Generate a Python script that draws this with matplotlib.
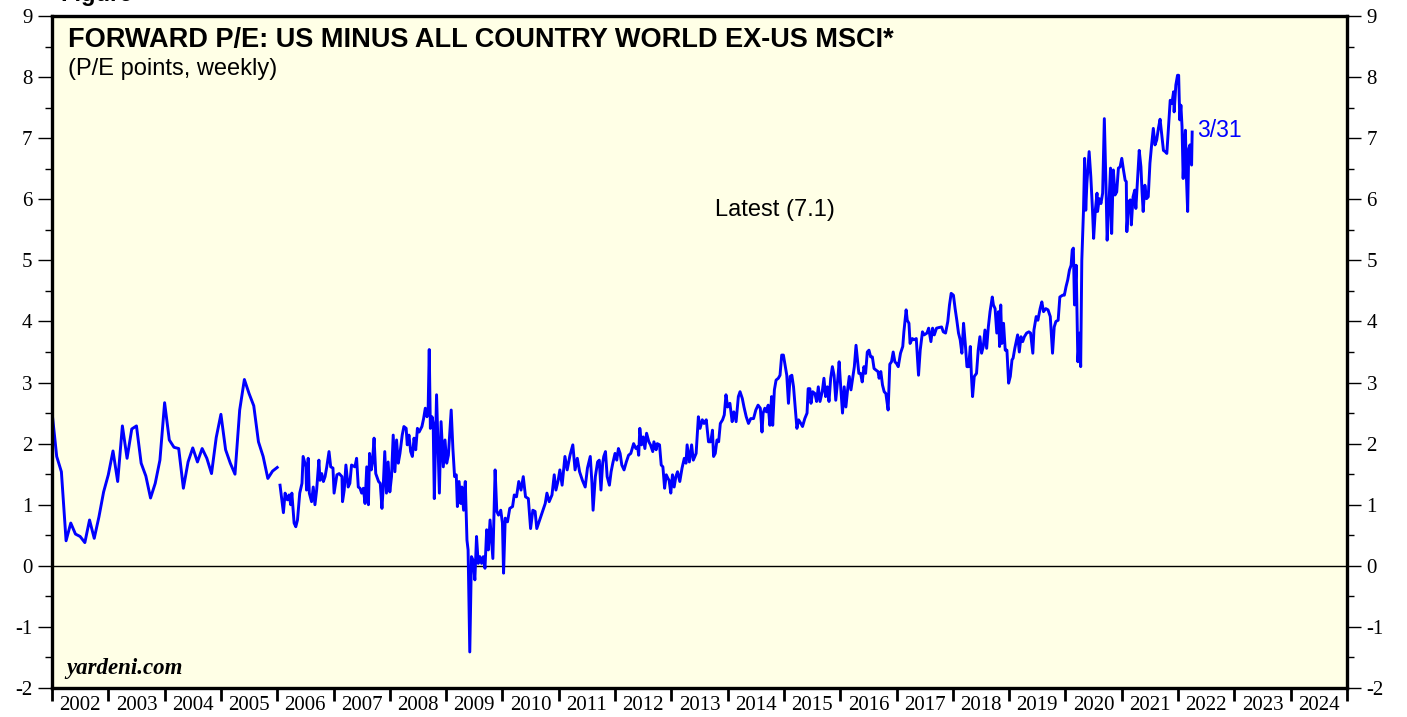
import numpy as np
import matplotlib
matplotlib.use("Agg")
from matplotlib import pyplot as plt
from matplotlib.ticker import MultipleLocator, FixedLocator, NullFormatter

plt.rcParams["axes.unicode_minus"] = False

# monthly readings, Jan 2002 .. Jan 2006
monthly_start = 2002.0
monthly_values = [
    2.52, 1.79, 1.54, 0.41, 0.70, 0.52, 0.48, 0.38, 0.75, 0.45, 0.80, 1.21,
    1.49, 1.88, 1.38, 2.29, 1.76, 2.24, 2.29, 1.68, 1.47, 1.11, 1.35, 1.73,
    2.67, 2.06, 1.94, 1.92, 1.27, 1.70, 1.93, 1.70, 1.92, 1.76, 1.51, 2.10,
    2.48, 1.90, 1.68, 1.50, 2.55, 3.05, 2.82, 2.62, 2.03, 1.79, 1.43, 1.55,
    1.61,
]

# weekly readings from 2006 (decimal year, P/E points)
weekly_dates = [
    2006.05, 2006.11, 2006.14, 2006.18, 2006.21, 2006.24, 2006.26, 2006.30, 2006.33, 2006.36,
    2006.40, 2006.44, 2006.46, 2006.51, 2006.52, 2006.55, 2006.57, 2006.61, 2006.64, 2006.67,
    2006.70, 2006.74, 2006.76, 2006.79, 2006.82, 2006.85, 2006.88, 2006.92, 2006.95, 2006.99,
    2007.01, 2007.06, 2007.10, 2007.15, 2007.16, 2007.19, 2007.22, 2007.26, 2007.29, 2007.32,
    2007.38, 2007.41, 2007.44, 2007.47, 2007.50, 2007.53, 2007.56, 2007.59, 2007.62, 2007.64,
    2007.67, 2007.69, 2007.72, 2007.75, 2007.80, 2007.83, 2007.86, 2007.88, 2007.91, 2007.94,
    2007.97, 2008.00, 2008.03, 2008.06, 2008.09, 2008.12, 2008.15, 2008.18, 2008.22, 2008.25,
    2008.29, 2008.31, 2008.34, 2008.37, 2008.40, 2008.43, 2008.46, 2008.49, 2008.52, 2008.57,
    2008.60, 2008.63, 2008.66, 2008.68, 2008.70, 2008.72, 2008.75, 2008.77, 2008.79, 2008.83,
    2008.88, 2008.91, 2008.95, 2008.98, 2009.01, 2009.04, 2009.09, 2009.12, 2009.15, 2009.18,
    2009.20, 2009.23, 2009.26, 2009.28, 2009.31, 2009.34, 2009.37, 2009.39, 2009.42, 2009.45,
    2009.48, 2009.51, 2009.54, 2009.57, 2009.60, 2009.63, 2009.66, 2009.69, 2009.72, 2009.75,
    2009.78, 2009.83, 2009.87, 2009.90, 2009.93, 2009.97, 2010.00, 2010.02, 2010.05, 2010.09,
    2010.13, 2010.18, 2010.21, 2010.25, 2010.29, 2010.33, 2010.37, 2010.41, 2010.46, 2010.50,
    2010.54, 2010.58, 2010.61, 2010.65, 2010.70, 2010.76, 2010.79, 2010.83, 2010.88, 2010.92,
    2010.95, 2010.99, 2011.02, 2011.06, 2011.11, 2011.15, 2011.20, 2011.25, 2011.29, 2011.33,
    2011.37, 2011.42, 2011.47, 2011.51, 2011.56, 2011.59, 2011.61, 2011.65, 2011.69, 2011.72,
    2011.75, 2011.78, 2011.80, 2011.83, 2011.86, 2011.90, 2011.93, 2011.96, 2012.00, 2012.03,
    2012.06, 2012.09, 2012.12, 2012.16, 2012.20, 2012.24, 2012.28, 2012.33, 2012.37, 2012.40,
    2012.42, 2012.44, 2012.47, 2012.50, 2012.53, 2012.56, 2012.60, 2012.63, 2012.67, 2012.69,
    2012.73, 2012.75, 2012.79, 2012.82, 2012.85, 2012.88, 2012.91, 2012.94, 2012.96, 2012.99,
    2013.02, 2013.05, 2013.08, 2013.11, 2013.15, 2013.19, 2013.23, 2013.26, 2013.28, 2013.32,
    2013.36, 2013.39, 2013.44, 2013.48, 2013.51, 2013.55, 2013.58, 2013.62, 2013.66, 2013.70,
    2013.73, 2013.75, 2013.78, 2013.81, 2013.84, 2013.87, 2013.91, 2013.94, 2013.97, 2014.00,
    2014.04, 2014.08, 2014.11, 2014.15, 2014.19, 2014.22, 2014.26, 2014.29, 2014.33, 2014.37,
    2014.41, 2014.46, 2014.50, 2014.54, 2014.58, 2014.61, 2014.63, 2014.66, 2014.69, 2014.72,
    2014.75, 2014.78, 2014.80, 2014.83, 2014.86, 2014.90, 2014.93, 2014.96, 2014.99, 2015.02,
    2015.05, 2015.08, 2015.11, 2015.14, 2015.17, 2015.20, 2015.23, 2015.26, 2015.30, 2015.33,
    2015.37, 2015.41, 2015.43, 2015.46, 2015.48, 2015.51, 2015.55, 2015.58, 2015.61, 2015.64,
    2015.68, 2015.71, 2015.74, 2015.77, 2015.80, 2015.83, 2015.86, 2015.89, 2015.92, 2015.96,
    2015.98, 2016.01, 2016.04, 2016.07, 2016.10, 2016.13, 2016.16, 2016.19, 2016.22, 2016.25,
    2016.28, 2016.30, 2016.33, 2016.36, 2016.39, 2016.42, 2016.45, 2016.48, 2016.51, 2016.54,
    2016.57, 2016.60, 2016.64, 2016.67, 2016.69, 2016.72, 2016.75, 2016.78, 2016.81, 2016.85,
    2016.88, 2016.91, 2016.94, 2016.97, 2017.00, 2017.03, 2017.07, 2017.11, 2017.13, 2017.17,
    2017.19, 2017.22, 2017.24, 2017.28, 2017.31, 2017.35, 2017.39, 2017.42, 2017.46, 2017.49,
    2017.54, 2017.57, 2017.61, 2017.64, 2017.67, 2017.71, 2017.75, 2017.80, 2017.83, 2017.87,
    2017.91, 2017.94, 2017.97, 2018.01, 2018.04, 2018.07, 2018.10, 2018.13, 2018.16, 2018.19,
    2018.22, 2018.25, 2018.28, 2018.31, 2018.33, 2018.35, 2018.38, 2018.42, 2018.45, 2018.48,
    2018.51, 2018.54, 2018.57, 2018.60, 2018.63, 2018.66, 2018.70, 2018.72, 2018.75, 2018.78,
    2018.81, 2018.83, 2018.85, 2018.87, 2018.90, 2018.93, 2018.96, 2018.99, 2019.02, 2019.05,
    2019.07, 2019.10, 2019.15, 2019.18, 2019.21, 2019.24, 2019.27, 2019.31, 2019.35, 2019.38,
    2019.42, 2019.44, 2019.48, 2019.51, 2019.55, 2019.58, 2019.61, 2019.65, 2019.69, 2019.73,
    2019.77, 2019.80, 2019.83, 2019.87, 2019.90, 2019.95, 2019.98, 2020.01, 2020.04, 2020.07,
    2020.10, 2020.12, 2020.14, 2020.16, 2020.19, 2020.22, 2020.25, 2020.27, 2020.29, 2020.32,
    2020.34, 2020.36, 2020.38, 2020.42, 2020.45, 2020.48, 2020.50, 2020.53, 2020.56, 2020.57,
    2020.60, 2020.63, 2020.66, 2020.69, 2020.72, 2020.74, 2020.77, 2020.80, 2020.82, 2020.85,
    2020.88, 2020.91, 2020.94, 2020.97, 2021.00, 2021.03, 2021.06, 2021.08, 2021.09, 2021.12,
    2021.15, 2021.17, 2021.20, 2021.23, 2021.25, 2021.28, 2021.31, 2021.34, 2021.36, 2021.38,
    2021.41, 2021.44, 2021.47, 2021.50, 2021.53, 2021.56, 2021.59, 2021.62, 2021.65, 2021.68,
    2021.71, 2021.74, 2021.77, 2021.80, 2021.83, 2021.86, 2021.89, 2021.92, 2021.93, 2021.96,
    2021.99, 2022.01, 2022.03, 2022.05, 2022.07, 2022.09, 2022.11, 2022.13, 2022.15, 2022.17,
    2022.19, 2022.21, 2022.24, 2022.25,
]
weekly_values = [
    1.32, 0.87, 1.19, 1.08, 1.16, 1.00, 1.19, 0.70, 0.64, 0.75,
    1.19, 1.35, 1.79, 1.62, 1.24, 1.76, 1.19, 1.05, 1.29, 1.00,
    1.24, 1.73, 1.40, 1.51, 1.38, 1.46, 1.62, 1.87, 1.62, 1.60,
    1.19, 1.49, 1.51, 1.46, 1.05, 1.24, 1.65, 1.29, 1.35, 1.65,
    1.62, 1.76, 1.29, 1.27, 1.19, 1.27, 1.02, 1.62, 1.00, 1.84,
    1.57, 1.68, 2.09, 1.51, 1.38, 1.35, 0.94, 1.24, 1.87, 1.19,
    1.70, 1.21, 1.46, 2.14, 1.54, 2.06, 1.68, 1.84, 2.14, 2.28,
    2.25, 1.98, 2.14, 1.87, 1.79, 2.09, 1.90, 2.25, 2.19, 2.28,
    2.41, 2.58, 2.44, 2.55, 3.54, 2.25, 2.44, 2.33, 1.10, 2.80,
    1.19, 2.36, 1.62, 2.06, 1.68, 1.81, 2.55, 1.92, 1.46, 1.49,
    0.97, 1.38, 1.02, 1.29, 0.91, 1.38, 0.42, 0.26, -1.41, 0.15,
    0.09, -0.23, 0.48, 0.04, 0.15, 0.04, 0.15, -0.04, 0.59, 0.26,
    0.75, 0.12, 1.57, 0.89, 0.83, 0.91, 0.70, -0.12, 0.78, 0.72,
    0.94, 0.97, 1.16, 1.13, 1.38, 1.24, 1.46, 1.13, 1.10, 0.61,
    0.91, 0.89, 0.61, 0.72, 0.86, 1.02, 1.19, 1.05, 1.16, 1.49,
    1.24, 1.40, 1.57, 1.32, 1.79, 1.57, 1.81, 1.98, 1.57, 1.76,
    1.54, 1.40, 1.29, 1.60, 1.79, 1.35, 0.91, 1.46, 1.70, 1.73,
    1.24, 1.68, 1.79, 1.87, 1.46, 1.32, 1.54, 1.68, 1.84, 1.73,
    1.92, 1.84, 1.65, 1.57, 1.70, 1.81, 1.84, 2.00, 1.92, 1.95,
    1.81, 2.25, 1.98, 2.11, 1.92, 2.17, 2.03, 1.98, 1.87, 2.03,
    1.90, 2.00, 1.98, 1.65, 1.62, 1.27, 1.49, 1.43, 1.40, 1.19,
    1.49, 1.29, 1.46, 1.54, 1.38, 1.60, 1.76, 1.68, 1.98, 1.70,
    1.98, 1.73, 1.84, 2.44, 2.25, 2.39, 2.33, 2.39, 2.03, 2.03,
    2.22, 1.79, 1.84, 2.06, 2.03, 2.33, 2.39, 2.47, 2.80, 2.60,
    2.66, 2.36, 2.52, 2.36, 2.77, 2.85, 2.74, 2.60, 2.44, 2.33,
    2.41, 2.41, 2.55, 2.63, 2.58, 2.19, 2.50, 2.58, 2.52, 2.63,
    2.30, 2.77, 2.30, 2.88, 3.04, 3.07, 3.12, 3.45, 3.45, 3.29,
    3.12, 2.66, 3.10, 3.12, 2.93, 2.58, 2.25, 2.39, 2.33, 2.28,
    2.41, 2.50, 2.90, 2.90, 2.66, 2.85, 2.82, 2.69, 2.93, 2.69,
    2.85, 3.07, 2.77, 2.93, 2.69, 3.07, 3.26, 3.12, 2.71, 3.10,
    3.34, 2.90, 2.50, 2.93, 2.60, 2.88, 3.10, 2.88, 3.07, 3.26,
    3.61, 3.42, 3.15, 3.15, 3.01, 3.26, 3.15, 3.50, 3.53, 3.42,
    3.42, 3.23, 3.20, 3.18, 3.07, 3.18, 2.96, 2.85, 2.82, 2.55,
    3.30, 3.34, 3.50, 3.34, 3.31, 3.26, 3.48, 3.59, 3.83, 4.19,
    4.02, 3.97, 3.64, 3.72, 3.70, 3.72, 3.12, 3.53, 3.83, 3.78,
    3.81, 3.89, 3.67, 3.89, 3.78, 3.89, 3.90, 3.91, 3.83, 3.81,
    4.00, 4.27, 4.46, 4.43, 4.21, 4.02, 3.81, 3.70, 3.48, 3.97,
    3.64, 3.26, 3.26, 3.59, 3.10, 2.77, 3.10, 3.15, 3.53, 3.75,
    3.48, 3.59, 3.86, 3.56, 3.91, 4.16, 4.40, 4.27, 4.21, 3.81,
    4.16, 3.59, 4.27, 3.64, 3.97, 3.53, 3.53, 2.99, 3.10, 3.37,
    3.40, 3.56, 3.78, 3.50, 3.75, 3.67, 3.75, 3.81, 3.83, 3.81,
    3.48, 3.86, 4.08, 4.02, 4.21, 4.32, 4.16, 4.21, 4.19, 4.08,
    3.48, 3.91, 4.00, 4.02, 4.40, 4.43, 4.43, 4.57, 4.68, 4.84,
    4.92, 5.17, 5.20, 4.27, 4.92, 3.34, 3.81, 3.26, 5.00, 5.82,
    6.67, 5.82, 6.26, 6.78, 6.37, 5.82, 5.36, 5.82, 6.10, 5.80,
    6.01, 5.93, 6.10, 7.32, 6.20, 5.33, 5.88, 6.51, 5.44, 6.48,
    6.07, 6.12, 6.51, 6.53, 6.67, 6.48, 6.31, 6.29, 5.47, 5.96,
    5.99, 5.58, 6.04, 6.15, 5.85, 6.31, 6.80, 6.53, 6.12, 5.80,
    6.23, 6.01, 6.04, 6.59, 6.89, 7.16, 6.89, 6.97, 7.16, 7.31,
    7.05, 6.80, 6.78, 6.75, 7.19, 7.62, 7.57, 7.76, 7.43, 7.87,
    8.03, 8.03, 7.30, 7.54, 7.19, 6.34, 6.86, 7.13, 6.31, 5.80,
    6.83, 6.89, 6.56, 7.10,
]

years = list(range(2002, 2025))
latest_label = "Latest (7.1)"
date_label = "3/31"

title = "FORWARD P/E: US MINUS ALL COUNTRY WORLD EX-US MSCI*"
subtitle = "(P/E points, weekly)"

line_color = "#0000FF"
bg_color = "#FFFFE6"
serif = ["Liberation Serif", "DejaVu Serif"]
sans = ["Liberation Sans", "DejaVu Sans"]

monthly_dates = monthly_start + np.arange(len(monthly_values)) / 12.0

fig = plt.figure(figsize=(14.07, 7.17), dpi=100)
ax = fig.add_axes([52 / 1407, 1 - 688 / 717, 1295 / 1407, 672 / 717])
ax.set_facecolor(bg_color)

ax.plot(monthly_dates, monthly_values, color=line_color, lw=2.1, solid_joinstyle="round")
ax.plot(weekly_dates, weekly_values, color=line_color, lw=2.1, solid_joinstyle="round")
ax.axhline(0, color="black", lw=1.0, zorder=1)

ax.set_xlim(2002, 2025)
ax.set_ylim(-2, 9)

# y axis: labels both sides
ax.yaxis.set_major_locator(MultipleLocator(1))
ax.yaxis.set_minor_locator(MultipleLocator(0.5))
ax.tick_params(axis="y", which="major", direction="out", length=10, width=1.0,
               left=True, right=True, labelleft=True, labelright=True,
               labelsize=15, pad=4)
ax.tick_params(axis="y", which="minor", direction="out", length=5, width=1.0,
               left=True, right=True)
for lab in ax.get_yticklabels():
    lab.set_family(serif)

# x axis: ticks at year boundaries, labels centred in each year
ax.xaxis.set_major_locator(FixedLocator(list(range(2002, 2026))))
ax.xaxis.set_major_formatter(NullFormatter())
ax.xaxis.set_minor_locator(FixedLocator([y + 0.5 for y in years]))
ax.set_xticklabels([str(y) for y in years], minor=True)
ax.tick_params(axis="x", which="major", direction="out", length=9, width=2.0)
ax.tick_params(axis="x", which="minor", length=0, labelsize=15, pad=6)
for lab in ax.get_xticklabels(minor=True):
    lab.set_family(serif)

for side in ["left", "bottom", "top", "right"]:
    ax.spines[side].set_linewidth(2.4)

ax.text(0.012, 0.983, title, transform=ax.transAxes, fontsize=19.5, fontweight="bold",
        family=sans, va="top", ha="left")
ax.text(0.012, 0.937, subtitle, transform=ax.transAxes, fontsize=17,
        family=sans, va="top", ha="left")
ax.text(0.558, 0.711, latest_label, transform=ax.transAxes, fontsize=17,
        family=sans, va="center", ha="center")
ax.text(weekly_dates[-1] + 0.09, 7.12, date_label, color=line_color, fontsize=16.5,
        family=sans, va="center", ha="left")
ax.text(0.011, 0.014, "yardeni.com", transform=ax.transAxes, fontsize=16.5,
        fontweight="bold", style="italic", family=serif, va="bottom", ha="left")

fig.text(60 / 1407, 1 - 1.5 / 717, "Figure", fontsize=17, fontweight="bold",
         family=sans, va="baseline", ha="left")

fig.savefig("out.png", dpi=100, facecolor="white")
